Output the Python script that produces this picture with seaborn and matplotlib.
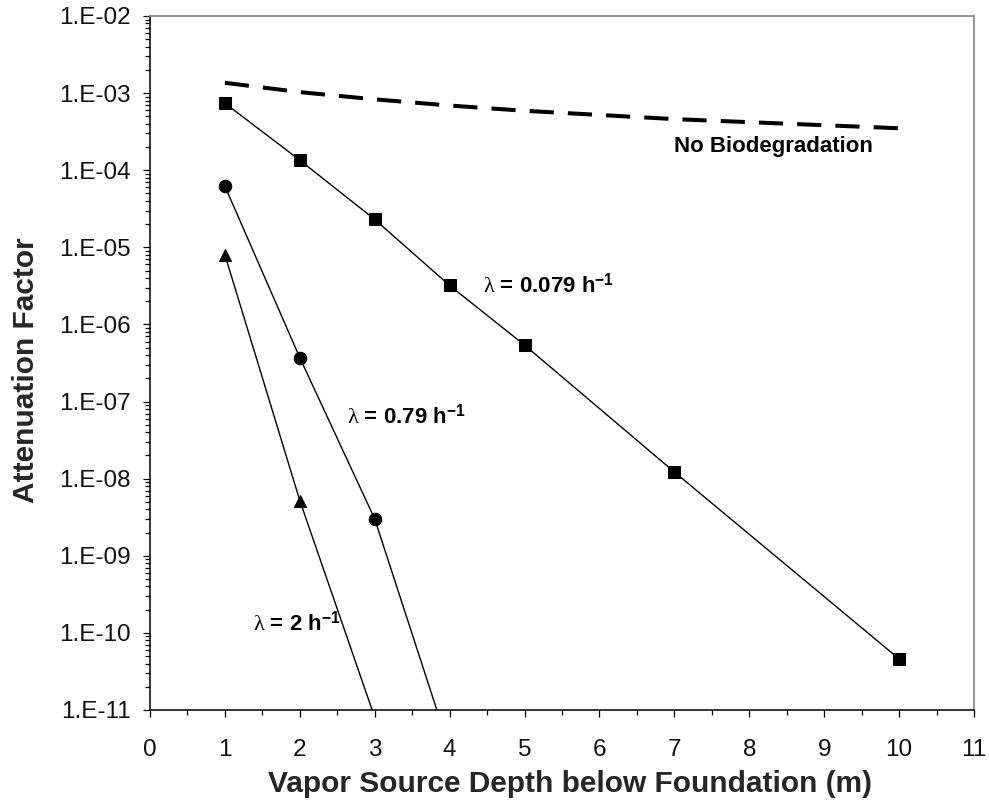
import numpy as np
import pandas as pd
import matplotlib
matplotlib.use("Agg")
import matplotlib.pyplot as plt
import seaborn as sns
from matplotlib.ticker import FixedLocator, LogLocator, MultipleLocator, NullFormatter

# ---- data ----
depth_slow = [1, 2, 3, 4, 5, 7, 10]
af_slow = [7.4e-4, 1.35e-4, 2.3e-5, 3.2e-6, 5.4e-7, 1.22e-8, 4.6e-11]      # lambda = 0.079 1/h

depth_mid = [1, 2, 3, 4]
af_mid = [6.2e-5, 3.7e-7, 3.0e-9, 3.1e-12]                                  # lambda = 0.79 1/h

depth_fast = [1, 2, 3]
af_fast = [8.0e-6, 5.2e-9, 8.0e-12]                                         # lambda = 2 1/h

depth_nobio = [1, 2, 3, 4, 5, 7, 10]
af_nobio = [1.36e-3, 1.03e-3, 8.3e-4, 6.9e-4, 5.9e-4, 4.6e-4, 3.5e-4]       # no biodegradation

x_ticks = [0, 1, 2, 3, 4, 5, 6, 7, 8, 9, 10, 11]
y_tick_values = [1e-11, 1e-10, 1e-9, 1e-8, 1e-7, 1e-6, 1e-5, 1e-4, 1e-3, 1e-2]
y_tick_labels = ["1.E-11", "1.E-10", "1.E-09", "1.E-08", "1.E-07",
                 "1.E-06", "1.E-05", "1.E-04", "1.E-03", "1.E-02"]

x_label = "Vapor Source Depth below Foundation (m)"
y_label = "Attenuation Factor"

sns.set_style("ticks")
plt.rcParams['font.family'] = ['Liberation Sans', 'DejaVu Sans']
plt.rcParams['mathtext.fontset'] = 'custom'
plt.rcParams['mathtext.rm'] = 'Liberation Serif'
plt.rcParams['mathtext.bf'] = 'Liberation Sans:bold'
plt.rcParams['mathtext.it'] = 'Liberation Serif'

fig = plt.figure(figsize=(9.89, 8.09), dpi=100)
fig.patch.set_facecolor('white')
ax = fig.add_axes([150 / 989, 1 - 710 / 809, 824 / 989, 694 / 809])
ax.set_facecolor('white')

# no biodegradation (dashed)
sns.lineplot(x=depth_nobio, y=af_nobio, ax=ax, color='black', linewidth=2.9,
             estimator=None)
ax.lines[-1].set_linestyle((0, (6, 3.5)))
ax.lines[-1].set_dash_capstyle('butt')

sns.lineplot(x=depth_slow, y=af_slow, ax=ax, color='black', linewidth=1.0,
             marker='s', markersize=8.8, markeredgecolor='black',
             markerfacecolor='black', estimator=None)
sns.lineplot(x=depth_mid, y=af_mid, ax=ax, color='black', linewidth=1.0,
             marker='o', markersize=9.0, markeredgecolor='black',
             markerfacecolor='black', estimator=None)
sns.lineplot(x=depth_fast, y=af_fast, ax=ax, color='black', linewidth=1.0,
             marker='^', markersize=9.0, markeredgecolor='black',
             markerfacecolor='black', estimator=None)

ax.set_yscale('log')
ax.set_xlim(0, 11)
ax.set_ylim(1e-11, 1e-2)

ax.xaxis.set_major_locator(FixedLocator(x_ticks))
ax.xaxis.set_minor_locator(MultipleLocator(0.5))
ax.set_xticklabels([str(v) for v in x_ticks])
ax.yaxis.set_major_locator(FixedLocator(y_tick_values))
ax.set_yticklabels(y_tick_labels)
ax.yaxis.set_minor_locator(LogLocator(base=10, subs=np.arange(2, 10), numticks=50))
ax.yaxis.set_minor_formatter(NullFormatter())

ax.tick_params(axis='both', which='major', direction='out', length=5, width=0.9,
               color='black', labelsize=17.5, labelcolor='#111111')
ax.tick_params(axis='both', which='minor', direction='out', length=3.6, width=0.9,
               color='black')
ax.tick_params(axis='x', which='major', pad=16)
ax.tick_params(axis='y', which='major', pad=9)

for s in ['left', 'bottom']:
    ax.spines[s].set_color('black')
    ax.spines[s].set_linewidth(1.1)
for s in ['top', 'right']:
    ax.spines[s].set_color('#8a8a8a')
    ax.spines[s].set_linewidth(1.3)
ax.grid(False)

ax.set_xlabel(x_label, fontsize=21.5, fontweight='bold')
ax.set_ylabel(y_label, fontsize=21.5, fontweight='bold')
ax.xaxis.set_label_coords(0.51, -0.086)
ax.yaxis.set_label_coords(-0.133, 0.49)

ann_kw = dict(fontsize=16, fontweight='bold', ha='left', va='baseline', color='black')
ax.text(4.446, 2.62e-6, r"$\mathrm{\lambda}$ = 0.079 h$^{\mathbf{-1}}$", **ann_kw)
ax.text(2.63, 5.22e-8, r"$\mathrm{\lambda}$ = 0.79 h$^{\mathbf{-1}}$", **ann_kw)
ax.text(1.375, 1.08e-10, r"$\mathrm{\lambda}$ = 2 h$^{\mathbf{-1}}$", **ann_kw)
ax.text(6.996, 1.72e-4, "No Biodegradation", **ann_kw)

fig.savefig("out.png", dpi=100, facecolor='white')
